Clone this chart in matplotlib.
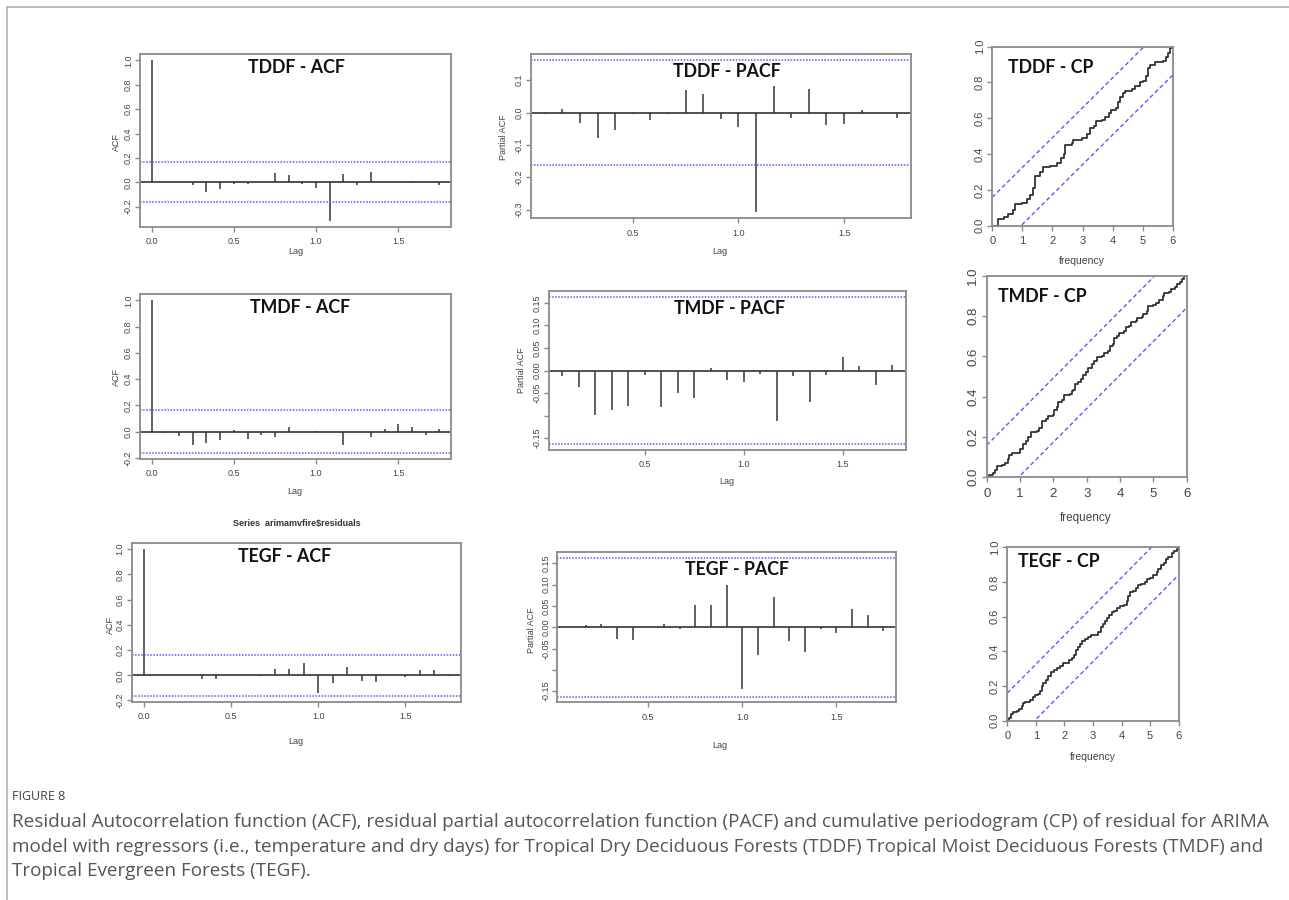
import numpy as np
import matplotlib.pyplot as plt

W, H = 1289, 900

# 95% bands
CI = 0.163
CP_CRIT = 0.159

# residual ACF, lags 0..21 (months / 12)
tddf_acf = [1.0, 0.0, 0.005, -0.02, -0.083, -0.055, -0.01, -0.015, 0.005, 0.075, 0.06,
            -0.01, -0.045, -0.314, 0.07, -0.02, 0.083, 0.005, 0.0, 0.01, 0.005, -0.02]
tmdf_acf = [1.0, -0.01, -0.035, -0.1, -0.087, -0.064, 0.01, -0.056, -0.023, -0.04, 0.033,
            -0.003, 0.003, -0.003, -0.1, 0.0, -0.044, 0.018, 0.056, 0.036, -0.026, 0.023]
tegf_acf = [1.0, 0.0, 0.003, 0.003, -0.027, -0.03, 0.0, 0.005, -0.003, 0.053, 0.053,
            0.1, -0.141, -0.061, 0.064, -0.045, -0.056, 0.005, -0.013, 0.043, 0.045, -0.005]

# residual PACF, lags 1..21
tddf_pacf = [-0.003, 0.01, -0.032, -0.08, -0.055, -0.005, -0.023, -0.003, 0.07, 0.057,
             -0.02, -0.045, -0.308, 0.081, -0.017, 0.072, -0.039, -0.034, 0.007, 0.0, -0.017]
tmdf_pacf = [-0.013, -0.037, -0.098, -0.088, -0.078, -0.009, -0.081, -0.05, -0.062, 0.006,
             -0.021, -0.025, -0.007, -0.111, -0.013, -0.069, -0.01, 0.029, 0.009, -0.032, 0.013]
tegf_pacf = [0.0, 0.006, 0.008, -0.027, -0.03, 0.0, 0.008, -0.003, 0.052, 0.053,
             0.099, -0.145, -0.064, 0.071, -0.032, -0.058, -0.004, -0.013, 0.044, 0.029, -0.009]

# cumulative periodogram (frequency, cumulative value), step curves
tddf_cp_f = [0, 0.2, 0.4, 0.53, 0.7, 0.75, 0.98, 1.14, 1.25, 1.34, 1.42, 1.59, 1.7, 1.92, 2.14,
             2.3, 2.4, 2.43, 2.64, 2.7, 2.97, 3.14, 3.25, 3.39, 3.44, 3.64, 3.75, 3.89, 3.95,
             4.1, 4.19, 4.25, 4.36, 4.41, 4.64, 4.75, 4.91, 5.02, 5.11, 5.18, 5.25, 5.41, 5.69,
             5.78, 5.86, 5.91, 5.97, 6.0]
tddf_cp_v = [0, 0.035, 0.05, 0.065, 0.09, 0.12, 0.125, 0.15, 0.17, 0.21, 0.28, 0.30, 0.33, 0.335,
             0.35, 0.38, 0.40, 0.45, 0.46, 0.48, 0.49, 0.51, 0.545, 0.555, 0.585, 0.59, 0.61,
             0.63, 0.645, 0.66, 0.69, 0.72, 0.74, 0.755, 0.765, 0.78, 0.80, 0.81, 0.835, 0.88,
             0.90, 0.915, 0.92, 0.94, 0.965, 0.99, 1.0, 1.0]
tmdf_cp_f = [0, 0.08, 0.2, 0.25, 0.32, 0.45, 0.55, 0.63, 0.67, 0.75, 0.95, 1.0, 1.1, 1.18, 1.25,
             1.33, 1.5, 1.58, 1.65, 1.78, 1.85, 1.98, 2.03, 2.1, 2.15, 2.25, 2.32, 2.5, 2.55,
             2.6, 2.65, 2.75, 2.82, 2.88, 2.98, 3.05, 3.15, 3.23, 3.32, 3.45, 3.53, 3.65, 3.7,
             3.8, 3.83, 3.9, 3.98, 4.13, 4.18, 4.28, 4.33, 4.48, 4.52, 4.65, 4.7, 4.8, 4.85,
             5.0, 5.08, 5.18, 5.28, 5.33, 5.48, 5.53, 5.65, 5.72, 5.8, 5.87, 5.93, 6.0]
tmdf_cp_v = [0, 0.01, 0.02, 0.035, 0.055, 0.06, 0.07, 0.09, 0.11, 0.12, 0.12, 0.14, 0.165, 0.18,
             0.20, 0.225, 0.23, 0.245, 0.28, 0.29, 0.305, 0.31, 0.335, 0.35, 0.375, 0.385, 0.41,
             0.415, 0.43, 0.435, 0.465, 0.475, 0.49, 0.505, 0.52, 0.54, 0.56, 0.575, 0.595,
             0.60, 0.615, 0.625, 0.65, 0.66, 0.69, 0.70, 0.715, 0.725, 0.745, 0.75, 0.77, 0.775,
             0.79, 0.795, 0.81, 0.825, 0.85, 0.855, 0.865, 0.88, 0.90, 0.915, 0.92, 0.935, 0.945,
             0.96, 0.97, 0.985, 1.0, 1.0]
tegf_cp_f = [0, 0.07, 0.13, 0.21, 0.33, 0.42, 0.5, 0.56, 0.62, 0.79, 0.89, 0.97, 1.09, 1.14, 1.2,
             1.26, 1.35, 1.44, 1.53, 1.65, 1.75, 1.84, 1.94, 2.08, 2.17, 2.25, 2.33, 2.4, 2.49,
             2.54, 2.6, 2.72, 2.84, 2.92, 3.13, 3.19, 3.27, 3.34, 3.42, 3.48, 3.57, 3.65, 3.75,
             3.83, 3.95, 4.1, 4.18, 4.24, 4.3, 4.41, 4.51, 4.59, 4.67, 4.82, 4.9, 5.0, 5.11,
             5.23, 5.29, 5.38, 5.5, 5.56, 5.64, 5.76, 5.84, 5.93, 5.99, 6.0]
tegf_cp_v = [0, 0.015, 0.04, 0.05, 0.055, 0.07, 0.085, 0.10, 0.11, 0.12, 0.135, 0.15, 0.155, 0.17,
             0.20, 0.215, 0.235, 0.26, 0.28, 0.295, 0.305, 0.315, 0.33, 0.335, 0.35, 0.36, 0.38,
             0.41, 0.425, 0.44, 0.46, 0.47, 0.48, 0.495, 0.495, 0.51, 0.54, 0.56, 0.575, 0.595,
             0.61, 0.625, 0.635, 0.65, 0.66, 0.665, 0.69, 0.72, 0.74, 0.75, 0.765, 0.78, 0.79,
             0.80, 0.815, 0.825, 0.84, 0.855, 0.875, 0.90, 0.91, 0.93, 0.945, 0.965, 0.98, 0.99,
             1.0, 1.0]

caption_head = "FIGURE 8"
caption_lines = [
    "Residual Autocorrelation function (ACF), residual partial autocorrelation function (PACF) and cumulative periodogram (CP) of residual for ARIMA",
    "model with regressors (i.e., temperature and dry days) for Tropical Dry Deciduous Forests (TDDF) Tropical Moist Deciduous Forests (TMDF) and",
    "Tropical Evergreen Forests (TEGF).",
]

BAR = "#555555"
BLUE = "#5a5aff"
SPINE = "#8a8a8a"
RFONT = ["Liberation Sans", "DejaVu Sans"]
TFONT = ["Lato", "DejaVu Sans"]

fig = plt.figure(figsize=(W / 100, H / 100), dpi=100)


def make_ax(l, r, t, b):
    ax = fig.add_axes([l / W, 1 - b / H, (r - l) / W, (b - t) / H])
    for s in ax.spines.values():
        s.set_color(SPINE)
        s.set_linewidth(1.3)
    ax.tick_params(color=SPINE, length=3.5, width=1.0, labelcolor="#444444")
    return ax


def rot_y(ax, size):
    for lb in ax.get_yticklabels():
        lb.set_rotation(90)
        lb.set_va("center")
        lb.set_fontsize(size)
        lb.set_family(RFONT)
    for lb in ax.get_xticklabels():
        lb.set_fontsize(size)
        lb.set_family(RFONT)


def r_lim(lo, hi):
    pad = (hi - lo) * 0.04
    return lo - pad, hi + pad


def acf_panel(box, vals, with_zero_lag, yticks, yfmt, skip=()):
    ax = make_ax(*box)
    vals = np.array(vals)
    lags = np.arange(len(vals)) / 12 if with_zero_lag else np.arange(1, len(vals) + 1) / 12
    ax.vlines(lags, 0, vals, color=BAR, lw=1.3)
    ax.axhline(0, color="#333333", lw=1.2)
    for c in (CI, -CI):
        ax.axhline(c, color=BLUE, lw=1.1, ls=(0, (1, 1)))
    ax.set_xlim(*r_lim(lags.min(), lags.max()))
    ax.set_ylim(*r_lim(min(-CI, vals.min()), max(CI, vals.max())))
    xt = [0, 0.5, 1.0, 1.5] if with_zero_lag else [0.5, 1.0, 1.5]
    ax.set_xticks(xt)
    ax.set_xticklabels([f"{v:.1f}" for v in xt])
    ax.set_yticks(yticks)
    ax.set_yticklabels(["" if v in skip else yfmt.format(v) for v in yticks])
    ax.tick_params(axis="x", pad=4)
    ax.tick_params(axis="y", pad=1.5)
    rot_y(ax, 6.5)
    return ax


def cp_panel(box, f, v, size):
    ax = make_ax(*box)
    ax.plot(f, v, drawstyle="steps-post", color="#333333", lw=1.3)
    ax.plot([0, 6], [CP_CRIT, CP_CRIT + 1], color=BLUE, lw=1.0, ls=(0, (3, 2)))
    ax.plot([0, 6], [-CP_CRIT, 1 - CP_CRIT], color=BLUE, lw=1.0, ls=(0, (3, 2)))
    ax.set_xlim(0, 6)
    ax.set_ylim(0, 1)
    ax.set_xticks(range(7))
    ax.set_yticks([0, 0.2, 0.4, 0.6, 0.8, 1.0])
    ax.set_yticklabels([f"{v:.1f}" for v in [0, 0.2, 0.4, 0.6, 0.8, 1.0]])
    ax.tick_params(axis="x", pad=4)
    ax.tick_params(axis="y", pad=2)
    rot_y(ax, size)
    return ax


def ftext(x, y, s, **kw):
    fig.text(x / W, 1 - y / H, s, **kw)


def title(x, y, s, ha="center"):
    ftext(x, y, s, ha=ha, va="center", fontsize=12.8, fontweight="bold", family=TFONT, color="#111111")


def axlabel(x, y, s, rot=0, size=6.5):
    ftext(x, y, s, ha="center", va="center", rotation=rot, fontsize=size, family=RFONT, color="#444444")


acf_ticks = [-0.2, 0.0, 0.2, 0.4, 0.6, 0.8, 1.0]
pacf_small = [-0.15, -0.10, -0.05, 0.0, 0.05, 0.10, 0.15]

# row 1 - TDDF
acf_panel((140, 451, 54, 227), tddf_acf, True, acf_ticks, "{:.1f}")
acf_panel((530.7, 911, 53.7, 218.3), tddf_pacf, False, [-0.3, -0.2, -0.1, 0.0, 0.1], "{:.1f}")
cp_panel((992.3, 1172.7, 46.7, 225.7), tddf_cp_f, tddf_cp_v, 8)
title(296.7, 67.7, "TDDF - ACF")
title(726.7, 71.7, "TDDF - PACF")
title(1008.3, 67.7, "TDDF - CP", ha="left")
axlabel(116.7, 141.7, "ACF", rot=90)
axlabel(296, 252, "Lag")
axlabel(503.3, 136.7, "Partial ACF", rot=90)
axlabel(720, 252, "Lag")
axlabel(1081.7, 260.7, "frequency", size=7.5)

# row 2 - TMDF
acf_panel((140, 451, 294.3, 459), tmdf_acf, True, acf_ticks, "{:.1f}")
acf_panel((549, 905.7, 291, 450), tmdf_pacf, False, pacf_small, "{:.2f}", skip=(-0.10,))
cp_panel((986.7, 1186.7, 275.7, 477.3), tmdf_cp_f, tmdf_cp_v, 9.5)
title(300, 307.3, "TMDF - ACF")
title(730, 308.3, "TMDF - PACF")
title(998.3, 296.7, "TMDF - CP", ha="left")
axlabel(116.7, 376.7, "ACF", rot=90)
axlabel(295, 491.7, "Lag")
axlabel(521.7, 370, "Partial ACF", rot=90)
axlabel(726.7, 481.7, "Lag")
axlabel(1085.7, 518.3, "frequency", size=8.5)

# row 3 - TEGF
acf_panel((131.7, 461, 543.3, 701.7), tegf_acf, True, acf_ticks, "{:.1f}")
acf_panel((557.3, 896, 552.3, 702.3), tegf_pacf, False, pacf_small, "{:.2f}", skip=(-0.10,))
cp_panel((1007.3, 1178.7, 547.3, 720.7), tegf_cp_f, tegf_cp_v, 8)
title(285, 556.7, "TEGF - ACF")
title(736.7, 569.3, "TEGF - PACF")
title(1018.3, 561.7, "TEGF - CP", ha="left")
ftext(296.7, 523.3, "Series  arimamvfire\\$residuals", ha="center", va="center",
      fontsize=6.5, fontweight="bold", family=RFONT, color="#333333")
axlabel(110, 625, "ACF", rot=90)
axlabel(296, 742, "Lag")
axlabel(531.7, 630, "Partial ACF", rot=90)
axlabel(720, 745, "Lag")
axlabel(1092.7, 756.7, "frequency", size=7.5)

# frame lines of the page
fig.add_artist(plt.Line2D([6.5 / W, 1], [1 - 6.5 / H, 1 - 6.5 / H], color="#b0b0b0", lw=1.2))
fig.add_artist(plt.Line2D([6.5 / W, 6.5 / W], [0, 1 - 6.5 / H], color="#b0b0b0", lw=1.2))

# caption
ftext(12, 796, caption_head, ha="left", va="center", fontsize=9, family=["Open Sans", "DejaVu Sans"],
      color="#444444")
for i, line in enumerate(caption_lines):
    ftext(12, 822 + i * 24.5, line, ha="left", va="center", fontsize=13.6,
          family=["Open Sans", "DejaVu Sans"], color="#555555")

fig.savefig("out.png", dpi=100)
